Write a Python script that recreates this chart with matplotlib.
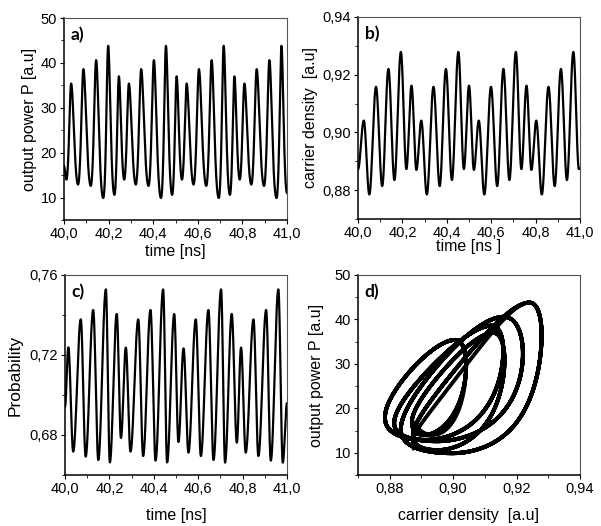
import matplotlib
matplotlib.use("Agg")
import matplotlib.pyplot as plt
import numpy as np
from matplotlib.ticker import FuncFormatter, MultipleLocator

plt.rcParams["font.family"] = ["Liberation Sans", "DejaVu Sans"]

# Extrema (time in ns, value); the 5-peak pattern repeats,
# so the times were averaged over the repeats
# a) output power P
p_t = [40.000, 40.011,
       40.032, 40.063, 40.087, 40.120, 40.144, 40.176, 40.198, 40.226, 40.246, 40.270,
       40.291, 40.322, 40.346, 40.379, 40.403, 40.435, 40.457, 40.485, 40.505, 40.529,
       40.550, 40.581, 40.605, 40.638, 40.662, 40.694, 40.716, 40.744, 40.764, 40.788,
       40.809, 40.840, 40.864, 40.897, 40.921, 40.953, 40.975, 41.000]
p_v = [17.0, 14.0,
       35.4, 12.9, 38.6, 12.6, 40.6, 9.9, 43.8, 10.6, 37.0, 14.0,
       35.4, 12.9, 38.6, 12.6, 40.6, 9.9, 43.8, 10.6, 37.0, 14.0,
       35.4, 12.9, 38.6, 12.6, 40.6, 9.9, 43.8, 10.6, 37.0, 14.0,
       35.4, 12.9, 38.6, 12.6, 40.6, 9.9, 43.8, 11.0]

# b) carrier density
n_t = [40.000,
       40.026, 40.051, 40.081, 40.109, 40.137, 40.164, 40.193, 40.218, 40.241, 40.263,
       40.285, 40.310, 40.340, 40.368, 40.396, 40.423, 40.452, 40.477, 40.500, 40.522,
       40.544, 40.569, 40.599, 40.627, 40.655, 40.682, 40.711, 40.736, 40.759, 40.781,
       40.803, 40.828, 40.858, 40.886, 40.914, 40.941, 40.970, 40.995, 41.000]
n_v = [0.8872,
       0.9041, 0.8785, 0.9158, 0.8814, 0.9220, 0.8835, 0.9279, 0.8873, 0.9162, 0.8870,
       0.9041, 0.8785, 0.9158, 0.8814, 0.9220, 0.8835, 0.9279, 0.8873, 0.9162, 0.8870,
       0.9041, 0.8785, 0.9158, 0.8814, 0.9220, 0.8835, 0.9279, 0.8873, 0.9162, 0.8870,
       0.9041, 0.8785, 0.9158, 0.8814, 0.9220, 0.8835, 0.9279, 0.8873, 0.8876]

# c) probability
q_t = [40.000, 40.015, 40.037, 40.071, 40.093, 40.127, 40.150, 40.184, 40.202, 40.233,
       40.252, 40.274, 40.295, 40.330, 40.352, 40.385, 40.408, 40.442, 40.460, 40.492,
       40.511, 40.534, 40.556, 40.589, 40.612, 40.646, 40.669, 40.703, 40.721, 40.751,
       40.774, 40.793, 40.814, 40.849, 40.871, 40.906, 40.927, 40.961, 40.981, 41.000]
q_v = [0.6942, 0.7238, 0.6717, 0.7378, 0.6692, 0.7425, 0.6675, 0.7528, 0.6663, 0.7405,
       0.6785, 0.7237, 0.6717, 0.7378, 0.6695, 0.7425, 0.6672, 0.7528, 0.6663, 0.7405,
       0.6765, 0.7233, 0.6712, 0.7378, 0.6695, 0.7425, 0.6675, 0.7528, 0.6662, 0.7405,
       0.6762, 0.7237, 0.6712, 0.7378, 0.6695, 0.7425, 0.6672, 0.7528, 0.6662, 0.6960]


def trace(t_ext, v_ext, t, log=False):
    # smooth half-cosine stroke between successive extrema
    t_ext = np.asarray(t_ext)
    v_ext = np.log(v_ext) if log else np.asarray(v_ext)
    i = np.clip(np.searchsorted(t_ext, t) - 1, 0, len(t_ext) - 2)
    u = (t - t_ext[i]) / (t_ext[i + 1] - t_ext[i])
    s = (1 - np.cos(np.pi * u)) / 2
    v = v_ext[i] + (v_ext[i + 1] - v_ext[i]) * s
    return np.exp(v) if log else v


t = np.linspace(40.0, 41.0, 6000)
P = trace(p_t, p_v, t, log=True)
N = trace(n_t, n_v, t)
Q = trace(q_t, q_v, t)

comma = FuncFormatter(lambda x, pos: f"{x:.1f}".replace(".", ","))
comma2 = FuncFormatter(lambda x, pos: f"{x:.2f}".replace(".", ","))
comma0 = FuncFormatter(lambda x, pos: f"{x:.0f}")

fig = plt.figure(figsize=(6.01, 5.26), dpi=100)
W, H = 601, 526


def make_ax(left, top, right, bottom):
    ax = fig.add_axes([left / W, 1 - bottom / H, (right - left) / W, (bottom - top) / H])
    for side in ["top", "right"]:
        ax.spines[side].set_color("#555555")
        ax.spines[side].set_linewidth(0.8)
    for side in ["bottom", "left"]:
        ax.spines[side].set_color("black")
        ax.spines[side].set_linewidth(1.1)
    ax.tick_params(which="major", direction="out", length=3, width=0.8, labelsize=10.5, pad=2)
    ax.tick_params(which="minor", direction="out", length=2, width=0.6)
    return ax


def tag(ax, s):
    ax.text(0.03, 0.915, s, transform=ax.transAxes, fontsize=12.5, fontweight="bold",
            family=["Lato", "DejaVu Sans"], ha="left", va="center")


# a)
ax = make_ax(64, 18, 287, 220)
ax.plot(t, P, color="black", lw=1.6)
ax.set_xlim(40.0, 41.0)
ax.set_ylim(5, 50)
ax.xaxis.set_major_locator(MultipleLocator(0.2))
ax.xaxis.set_minor_locator(MultipleLocator(0.1))
ax.yaxis.set_major_locator(MultipleLocator(10))
ax.yaxis.set_minor_locator(MultipleLocator(5))
ax.xaxis.set_major_formatter(comma)
ax.yaxis.set_major_formatter(comma0)
ax.set_xlabel("time [ns]", fontsize=11.5, labelpad=2)
ax.set_ylabel("output power P [a.u]", fontsize=11.5, labelpad=3)
tag(ax, "a)")

# b)
ax = make_ax(358, 17, 580, 219)
ax.plot(t, N, color="black", lw=1.6)
ax.set_xlim(40.0, 41.0)
ax.set_ylim(0.87, 0.94)
ax.xaxis.set_major_locator(MultipleLocator(0.2))
ax.xaxis.set_minor_locator(MultipleLocator(0.1))
ax.yaxis.set_major_locator(MultipleLocator(0.02))
ax.yaxis.set_minor_locator(MultipleLocator(0.01))
ax.xaxis.set_major_formatter(comma)
ax.yaxis.set_major_formatter(comma2)
ax.set_xlabel("time [ns ]", fontsize=11.5, labelpad=-1)
ax.set_ylabel("carrier density  [a.u]", fontsize=11.5, labelpad=3)
tag(ax, "b)")

# c)
ax = make_ax(65, 275, 287, 475)
ax.plot(t, Q, color="black", lw=1.6)
ax.set_xlim(40.0, 41.0)
ax.set_ylim(0.66, 0.76)
ax.xaxis.set_major_locator(MultipleLocator(0.2))
ax.xaxis.set_minor_locator(MultipleLocator(0.1))
ax.yaxis.set_major_locator(MultipleLocator(0.04))
ax.yaxis.set_minor_locator(MultipleLocator(0.02))
ax.xaxis.set_major_formatter(comma)
ax.yaxis.set_major_formatter(comma2)
ax.set_xlabel("time [ns]", fontsize=11.5, labelpad=9)
ax.set_ylabel("Probability", fontsize=12.5, labelpad=5)
tag(ax, "c)")

# d)
ax = make_ax(358, 275, 580, 475)
ax.plot(N, P, color="black", lw=2.8)
ax.set_xlim(0.87, 0.94)
ax.set_ylim(5, 50)
ax.xaxis.set_major_locator(MultipleLocator(0.02))
ax.xaxis.set_minor_locator(MultipleLocator(0.01))
ax.yaxis.set_major_locator(MultipleLocator(10))
ax.yaxis.set_minor_locator(MultipleLocator(5))
ax.xaxis.set_major_formatter(comma2)
ax.yaxis.set_major_formatter(comma0)
ax.set_xlabel("carrier density  [a.u]", fontsize=11.5, labelpad=9)
ax.set_ylabel("output power P [a.u]", fontsize=11.5, labelpad=8)
tag(ax, "d)")

fig.savefig("out.png", dpi=100)
